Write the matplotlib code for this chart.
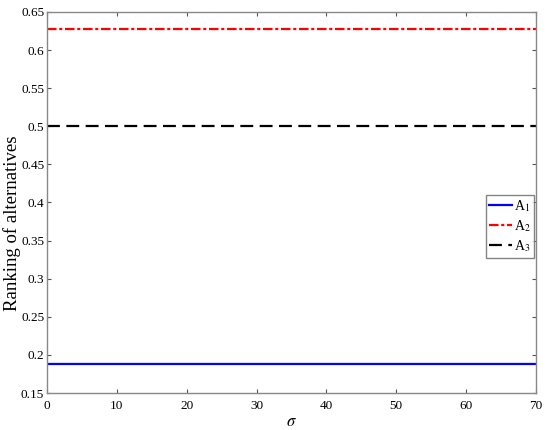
import matplotlib
matplotlib.use("Agg")
import matplotlib.pyplot as plt
import numpy as np

plt.rcParams['font.family'] = ['Liberation Serif', 'DejaVu Serif']
plt.rcParams['mathtext.fontset'] = 'stix'

sigma = [0, 70]
a1 = [0.188, 0.188]
a2 = [0.628, 0.628]
a3 = [0.5, 0.5]
yticks = [0.15, 0.2, 0.25, 0.3, 0.35, 0.4, 0.45, 0.5, 0.55, 0.6, 0.65]
ylabels = ['0.15', '0.2', '0.25', '0.3', '0.35', '0.4', '0.45', '0.5', '0.55', '0.6', '0.65']

fig = plt.figure(figsize=(5.5, 4.3), dpi=100)
# axes box: x 47..536, y 12..393 in pixels
ax = fig.add_axes([47/550, 1 - 393/430, 489/550, 381/430])

ax.plot(sigma, a1, color='blue', lw=1.6, ls='-', label='A$_1$')
ax.plot(sigma, a2, color='red', lw=1.6, ls=(0, (4.3, 1.2, 1.4, 1.2)), label='A$_2$')
ax.plot(sigma, a3, color='black', lw=1.6, ls=(0, (5.8, 2.9)), label='A$_3$')

ax.set_xlim(0, 70)
ax.set_ylim(0.15, 0.65)
ax.set_xticks(np.arange(0, 71, 10))
ax.set_yticks(yticks)
ax.set_yticklabels(ylabels)

ax.tick_params(direction='in', top=True, right=True, labelsize=9.5, length=3, color='#555555')
ax.tick_params(axis='x', pad=5)
ax.tick_params(axis='y', pad=2)
for s in ax.spines.values():
    s.set_color('#888888')
    s.set_linewidth(1)

ax.set_xlabel(r'$\sigma$', fontsize=12)
ax.xaxis.set_label_coords(0.5, -0.056)
ax.set_ylabel('Ranking of alternatives', fontsize=13.5)
ax.yaxis.set_label_coords(-0.054, 0.445)

leg = ax.legend(loc='upper right', bbox_to_anchor=(0.996, 0.52), fontsize=10, frameon=True,
                fancybox=False, edgecolor='#666666', handlelength=1.6, handletextpad=0.15,
                borderpad=0.25, labelspacing=0.3, borderaxespad=0.0)
leg.get_frame().set_linewidth(1)

fig.savefig('out.png', dpi=100)
